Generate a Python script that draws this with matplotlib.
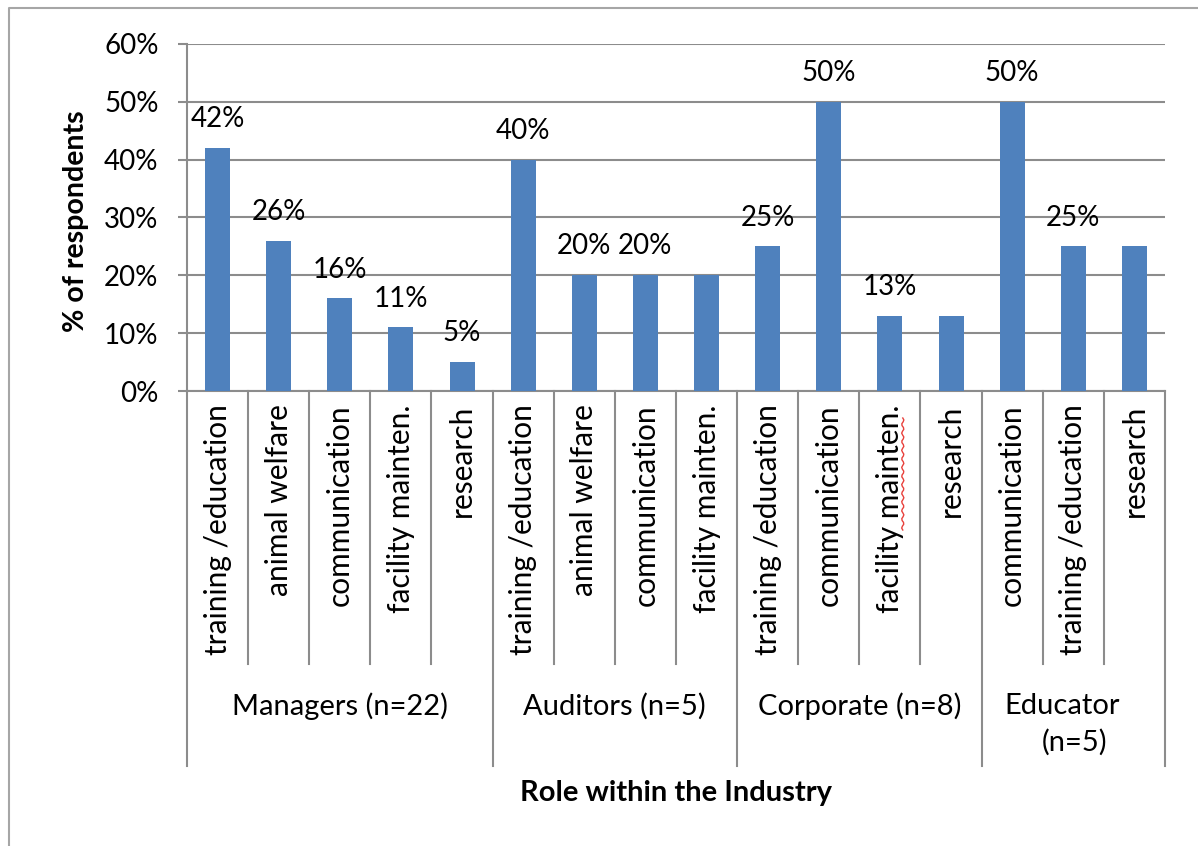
import numpy as np
import matplotlib
matplotlib.use("Agg")
import matplotlib.pyplot as plt
from matplotlib.lines import Line2D
from matplotlib.transforms import blended_transform_factory

# ---- data ----
groups = ["Managers (n=22)", "Auditors (n=5)", "Corporate (n=8)", "Educator\n(n=5)"]
managers_cats = ["training /education", "animal welfare", "communication", "facility mainten.", "research"]
managers_vals = [42, 26, 16, 11, 5]
auditors_cats = ["training /education", "animal welfare", "communication", "facility mainten."]
auditors_vals = [40, 20, 20, 20]
corporate_cats = ["training /education", "communication", "facility mainten.", "research"]
corporate_vals = [25, 50, 13, 13]
educator_cats = ["communication", "training /education", "research"]
educator_vals = [50, 25, 25]
# which bars carry a value label
managers_lab = [True, True, True, True, True]
auditors_lab = [True, True, True, False]
corporate_lab = [True, True, True, False]
educator_lab = [True, True, False]

yticks = [0, 10, 20, 30, 40, 50, 60]

BLUE = "#4F81BD"
GRAY = "#8C8C8C"
FONT = "Lato"

cats = managers_cats + auditors_cats + corporate_cats + educator_cats
vals = managers_vals + auditors_vals + corporate_vals + educator_vals
labs = managers_lab + auditors_lab + corporate_lab + educator_lab
sizes = [len(managers_cats), len(auditors_cats), len(corporate_cats), len(educator_cats)]

plt.rcParams["font.family"] = [FONT, "DejaVu Sans"]

W, H = 1198, 846
fig = plt.figure(figsize=(W / 100, H / 100), dpi=100)
ax = fig.add_axes([187 / W, 1 - 391 / H, (1165 - 187) / W, (391 - 44) / H])

x = np.arange(len(cats))
ax.bar(x, vals, width=0.41, color=BLUE, zorder=3)
ax.set_xlim(-0.5, len(cats) - 0.5)
ax.set_ylim(0, 60)

# value labels
for xi, v, show in zip(x, vals, labs):
    if show:
        ax.annotate(f"{v}%", (xi, v), xytext=(0, 15), textcoords="offset points",
                    ha="center", va="baseline", fontsize=20, color="black", zorder=4)

# y axis
ax.set_yticks(yticks)
ax.set_yticklabels([f"{t}%" for t in yticks], fontsize=20)
ax.tick_params(axis="y", length=6.5, width=1.5, color=GRAY, pad=14)
ax.yaxis.grid(True, color=GRAY, linewidth=1.5, zorder=0)
ax.set_axisbelow(True)
for s in ["top", "right"]:
    ax.spines[s].set_visible(False)
for s in ["left", "bottom"]:
    ax.spines[s].set_color(GRAY)
    ax.spines[s].set_linewidth(1.5)
ax.set_xticks([])
ax.set_ylabel("% of respondents", fontsize=20.5, fontweight="bold")
ax.yaxis.set_label_coords(-0.100, 0.49)

# multi-level category axis
tr = blended_transform_factory(ax.transData, ax.transAxes)
inner_bot = -(664 - 391) / 347
outer_bot = -(766 - 391) / 347
bounds = np.cumsum([0] + sizes)
group_edges = set(bounds.tolist())
for b in range(len(cats) + 1):
    ybot = outer_bot if b in group_edges else inner_bot
    ax.add_line(Line2D([b - 0.5, b - 0.5], [0, ybot], transform=tr, color=GRAY,
                       linewidth=1.5, clip_on=False))

for xi, c in zip(x, cats):
    ax.text(xi, -0.038, c, transform=tr, rotation=90, ha="center", va="top", fontsize=21.5)

# spell-check squiggle under the corporate "mainten."
corp_fac = bounds[2] + corporate_cats.index("facility mainten.")
sq_y = np.linspace(-(418 - 391) / 347, -(530 - 391) / 347, 60)
sq_x = corp_fac + 0.21 + 0.018 * np.sin(np.linspace(0, 26 * np.pi, 60))
ax.add_line(Line2D(sq_x, sq_y, transform=tr, color="#E8413C", linewidth=1.0, clip_on=False))

grp_y = -(706 - 391) / 347
for g, lo, n in zip(groups, bounds[:-1], sizes):
    center = lo + (n - 1) / 2
    if "\n" in g:
        first, second = g.split("\n")
        ax.text(center - 0.18, grp_y, first, transform=tr, ha="center", va="center", fontsize=21)
        ax.text(center + 0.02, -(742 - 391) / 347, second, transform=tr, ha="center",
                va="center", fontsize=21)
    else:
        ax.text(center, grp_y, g, transform=tr, ha="center", va="center", fontsize=21)

fig.text((187 + 1165) / 2 / W, 1 - 793 / H, "Role within the Industry", ha="center",
         va="center", fontsize=21, fontweight="bold")

# chart-area border (open toward right and bottom edges)
fig.add_artist(Line2D([9 / W, 9 / W, 1.0], [0.0, 1 - 8 / H, 1 - 8 / H],
                      transform=fig.transFigure, color="#A6A6A6", linewidth=1.5))

fig.savefig("out.png", dpi=100)
